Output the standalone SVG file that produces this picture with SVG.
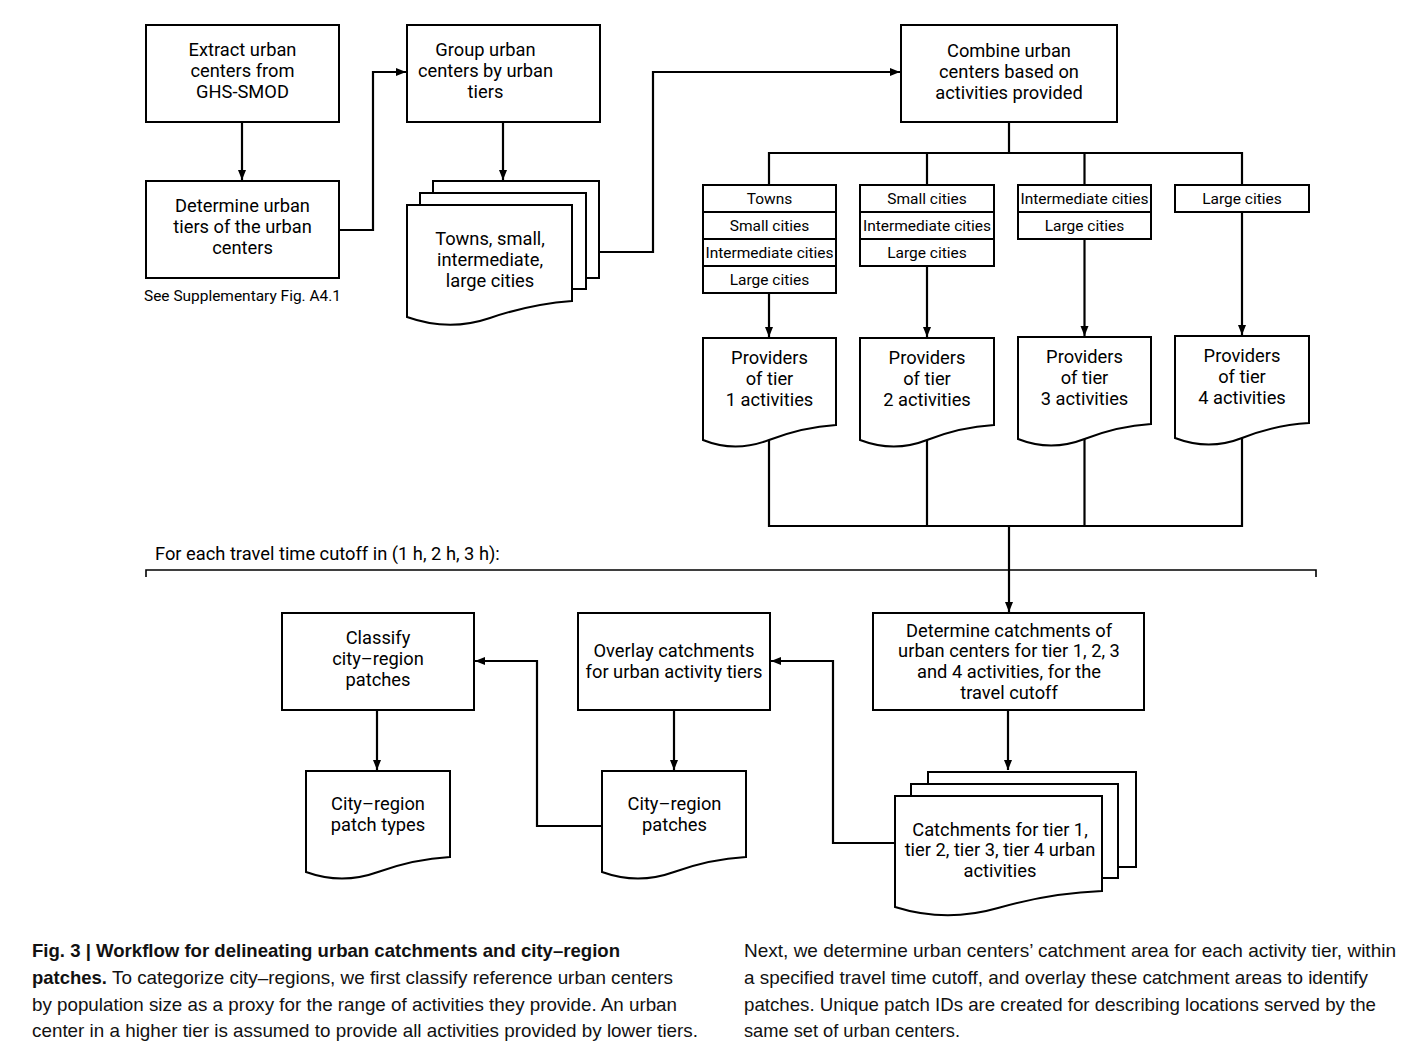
<svg xmlns="http://www.w3.org/2000/svg" width="1411" height="1044" viewBox="0 0 1411 1044">
<defs>
<marker id="ah" markerWidth="11" markerHeight="11" refX="10" refY="5.5" orient="auto" markerUnits="userSpaceOnUse">
<path d="M0,1.5 L10,5.5 L0,9.5 Z" fill="#000"/>
</marker>
<style>
.b{fill:#fff;stroke:#000;stroke-width:2}
.c{fill:none;stroke:#000;stroke-width:2.2}
.t{font-family:Roboto,"Liberation Sans",sans-serif;font-size:18.3px;fill:#000;text-anchor:middle}
.s{font-family:Roboto,"Liberation Sans",sans-serif;font-size:15.5px;fill:#000;text-anchor:middle}
.n{font-family:Roboto,"Liberation Sans",sans-serif;font-size:15px;fill:#000}
.cap{font-family:"Liberation Sans Narrow","Liberation Sans",sans-serif;font-size:19px;fill:#111}
.capb{font-family:"Liberation Sans Narrow","Liberation Sans",sans-serif;font-size:19px;fill:#111;font-weight:bold}
</style>
</defs>
<rect width="1411" height="1044" fill="#fff"/>

<g id="connectors">
<path class="c" d="M242,122 V180" marker-end="url(#ah)"/>
<path class="c" d="M339,230 H373 V72 H406" marker-end="url(#ah)"/>
<path class="c" d="M503,122 V180" marker-end="url(#ah)"/>
<path class="c" d="M599,252 H653 V72 H900" marker-end="url(#ah)"/>
<path class="c" d="M1009,122 V153 M769,185 V153 H1242 V185 M927,153 V185 M1084.5,153 V185"/>
<path class="c" d="M769,293 V337" marker-end="url(#ah)"/>
<path class="c" d="M927,266 V337" marker-end="url(#ah)"/>
<path class="c" d="M1084.5,239 V336" marker-end="url(#ah)"/>
<path class="c" d="M1242,212 V335" marker-end="url(#ah)"/>
<path class="c" d="M769,440 V526 H1242 V438 M927,440 V526 M1084.5,438 V526"/>
<path class="c" d="M1009,526 V612" marker-end="url(#ah)"/>
<path class="c" d="M1008,710 V770" marker-end="url(#ah)"/>
<path class="c" d="M895,843 H833 V661 H771" marker-end="url(#ah)"/>
<path class="c" d="M674,710 V770" marker-end="url(#ah)"/>
<path class="c" d="M602,826 H537 V661 H475" marker-end="url(#ah)"/>
<path class="c" d="M377,710 V770" marker-end="url(#ah)"/>
<path fill="none" stroke="#000" stroke-width="1.6" d="M146,577 V570 H1316 V577"/>
</g>

<g id="extract">
<rect class="b" x="146" y="25" width="193" height="97"/>
<text class="t" x="242.5" y="56">Extract urban</text>
<text class="t" x="242.5" y="77">centers from</text>
<text class="t" x="242.5" y="98">GHS-SMOD</text>
</g>
<g id="determine-tiers">
<rect class="b" x="146" y="181" width="193" height="97"/>
<text class="t" x="242.5" y="212">Determine urban</text>
<text class="t" x="242.5" y="233">tiers of the urban</text>
<text class="t" x="242.5" y="254">centers</text>
</g>
<g id="note">
<text class="n" x="144" y="301" textLength="197" lengthAdjust="spacingAndGlyphs">See Supplementary Fig. A4.1</text>
</g>
<g id="group">
<rect class="b" x="407" y="25" width="193" height="97"/>
<text class="t" x="485.5" y="56">Group urban</text>
<text class="t" x="485.5" y="77">centers by urban</text>
<text class="t" x="485.5" y="98">tiers</text>
</g>
<g id="tiers-doc">
<rect class="b" x="433" y="181" width="166" height="97"/>
<rect class="b" x="420" y="193" width="166" height="96"/>
<path class="b" d="M407,205 H572 V301 Q531,304 490,318 T407,317 Z"/>
<text class="t" x="490" y="245">Towns, small,</text>
<text class="t" x="490" y="266">intermediate,</text>
<text class="t" x="490" y="287">large cities</text>
</g>
<g id="combine">
<rect class="b" x="901" y="25" width="216" height="97"/>
<text class="t" x="1009" y="57">Combine urban</text>
<text class="t" x="1009" y="78">centers based on</text>
<text class="t" x="1009" y="99">activities provided</text>
</g>

<g id="table1">
<rect class="b" x="703" y="185" width="133" height="27"/>
<rect class="b" x="703" y="212" width="133" height="27"/>
<rect class="b" x="703" y="239" width="133" height="27"/>
<rect class="b" x="703" y="266" width="133" height="27"/>
<text class="s" x="769.5" y="204">Towns</text>
<text class="s" x="769.5" y="231">Small cities</text>
<text class="s" x="769.5" y="258">Intermediate cities</text>
<text class="s" x="769.5" y="285">Large cities</text>
</g>
<g id="table2">
<rect class="b" x="860" y="185" width="134" height="27"/>
<rect class="b" x="860" y="212" width="134" height="27"/>
<rect class="b" x="860" y="239" width="134" height="27"/>
<text class="s" x="927" y="204">Small cities</text>
<text class="s" x="927" y="231">Intermediate cities</text>
<text class="s" x="927" y="258">Large cities</text>
</g>
<g id="table3">
<rect class="b" x="1018" y="185" width="133" height="27"/>
<rect class="b" x="1018" y="212" width="133" height="27"/>
<text class="s" x="1084.5" y="204">Intermediate cities</text>
<text class="s" x="1084.5" y="231">Large cities</text>
</g>
<g id="table4">
<rect class="b" x="1175" y="185" width="134" height="27"/>
<text class="s" x="1242" y="204">Large cities</text>
</g>

<g id="providers1">
<path class="b" d="M703,338 H836 V425 Q803,427 769,440 T703,440 Z"/>
<text class="t" x="769.5" y="364">Providers</text>
<text class="t" x="769.5" y="385">of tier</text>
<text class="t" x="769.5" y="406">1 activities</text>
</g>
<g id="providers2">
<path class="b" d="M860,338 H994 V425 Q960,427 927,440 T860,440 Z"/>
<text class="t" x="927" y="364">Providers</text>
<text class="t" x="927" y="385">of tier</text>
<text class="t" x="927" y="406">2 activities</text>
</g>
<g id="providers3">
<path class="b" d="M1018,337 H1151 V424 Q1118,426 1084.5,439 T1018,439 Z"/>
<text class="t" x="1084.5" y="363">Providers</text>
<text class="t" x="1084.5" y="384">of tier</text>
<text class="t" x="1084.5" y="405">3 activities</text>
</g>
<g id="providers4">
<path class="b" d="M1175,336 H1309 V423 Q1275,425 1242,438 T1175,438 Z"/>
<text class="t" x="1242" y="362">Providers</text>
<text class="t" x="1242" y="383">of tier</text>
<text class="t" x="1242" y="404">4 activities</text>
</g>

<g id="loop-label">
<text class="t" x="155" y="560" style="text-anchor:start">For each travel time cutoff in (1 h, 2 h, 3 h):</text>
</g>

<g id="catchments">
<rect class="b" x="873" y="613" width="271" height="97"/>
<text class="t" x="1009" y="637">Determine catchments of</text>
<text class="t" x="1009" y="657">urban centers for tier 1, 2, 3</text>
<text class="t" x="1009" y="678">and 4 activities, for the</text>
<text class="t" x="1009" y="699">travel cutoff</text>
</g>
<g id="catchments-doc">
<rect class="b" x="928" y="772" width="208" height="95"/>
<rect class="b" x="911" y="784" width="207" height="94"/>
<path class="b" d="M895,796 H1102 V891 Q1050,893 998,908 T895,907 Z"/>
<text class="t" x="1000" y="836">Catchments for tier 1,</text>
<text class="t" x="1000" y="856">tier 2, tier 3, tier 4 urban</text>
<text class="t" x="1000" y="877">activities</text>
</g>
<g id="overlay">
<rect class="b" x="578" y="613" width="192" height="97"/>
<text class="t" x="674" y="657">Overlay catchments</text>
<text class="t" x="674" y="678">for urban activity tiers</text>
</g>
<g id="patches">
<path class="b" d="M602,771 H746 V857 Q710,859 674,872 T602,872 Z"/>
<text class="t" x="674.5" y="810">City–region</text>
<text class="t" x="674.5" y="831">patches</text>
</g>
<g id="classify">
<rect class="b" x="282" y="613" width="192" height="97"/>
<text class="t" x="378" y="644">Classify</text>
<text class="t" x="378" y="665">city–region</text>
<text class="t" x="378" y="686">patches</text>
</g>
<g id="patch-types">
<path class="b" d="M306,771 H450 V857 Q414,859 378,872 T306,872 Z"/>
<text class="t" x="378" y="810">City–region</text>
<text class="t" x="378" y="831">patch types</text>
</g>

<g id="caption">
<text class="capb" x="32" y="957" textLength="588" lengthAdjust="spacingAndGlyphs">Fig. 3 | Workflow for delineating urban catchments and city–region</text>
<text class="capb" x="32" y="984" textLength="75" lengthAdjust="spacingAndGlyphs">patches.</text>
<text class="cap" x="112" y="984" textLength="561" lengthAdjust="spacingAndGlyphs">To categorize city–regions, we first classify reference urban centers</text>
<text class="cap" x="32" y="1011" textLength="645" lengthAdjust="spacingAndGlyphs">by population size as a proxy for the range of activities they provide. An urban</text>
<text class="cap" x="32" y="1037" textLength="666" lengthAdjust="spacingAndGlyphs">center in a higher tier is assumed to provide all activities provided by lower tiers.</text>
<text class="cap" x="744" y="957" textLength="652" lengthAdjust="spacingAndGlyphs">Next, we determine urban centers’ catchment area for each activity tier, within</text>
<text class="cap" x="744" y="984" textLength="624" lengthAdjust="spacingAndGlyphs">a specified travel time cutoff, and overlay these catchment areas to identify</text>
<text class="cap" x="744" y="1011" textLength="632" lengthAdjust="spacingAndGlyphs">patches. Unique patch IDs are created for describing locations served by the</text>
<text class="cap" x="744" y="1037" textLength="216" lengthAdjust="spacingAndGlyphs">same set of urban centers.</text>
</g>
</svg>
